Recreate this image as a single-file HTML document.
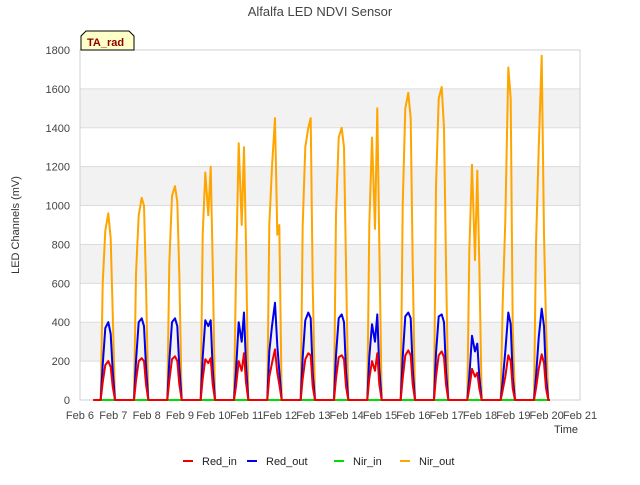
<!DOCTYPE html>
<html><head><meta charset="utf-8"><style>
body{margin:0;background:#fff;font-family:"Liberation Sans",sans-serif}
text{font-family:"Liberation Sans","DejaVu Sans",sans-serif}
</style></head><body>
<svg id="c" width="640" height="480">
<text x="320" y="16" text-anchor="middle" font-size="13" fill="#444">Alfalfa LED NDVI Sensor</text>
<g id="bands"></g><g id="grid"></g><g id="ticks"></g><g id="series"></g>
<text x="19" y="225" transform="rotate(-90 19 225)" text-anchor="middle" font-size="11" fill="#333">LED Channels (mV)</text>
<text x="566" y="433" text-anchor="middle" font-size="11" fill="#333">Time</text>
<g>
<path d="M81,50 L81,36 L86,31 L129,31 L134,36 L134,50 Z" fill="#ffffc8" stroke="#000" stroke-width="1"/>
<text x="87" y="46" font-size="11" font-weight="bold" fill="#8b0000">TA_rad</text></g>
<g id="legend"></g>
</svg>
<script>
const yTicks=[0,200,400,600,800,1000,1200,1400,1600,1800];
const xTickLabels=["Feb 6","Feb 7","Feb 8","Feb 9","Feb 10","Feb 11","Feb 12","Feb 13","Feb 14","Feb 15","Feb 16","Feb 17","Feb 18","Feb 19","Feb 20","Feb 21"];
const dayFractions=[0.62,0.68,0.76,0.85,0.92,0.98,1.05];
const nirOut=[
0,600,870,960,830,450,0, 0,650,950,1040,1000,600,0, 0,700,1050,1100,1020,650,0,
0,850,1170,950,1200,700,0, 0,650,1320,900,1300,800,0, 0,900,1200,1450,850,900,0,
0,900,1300,1400,1450,600,0, 0,950,1350,1400,1300,700,0, 0,900,1350,880,1500,800,0,
0,1000,1500,1580,1450,700,0, 0,1100,1550,1610,1400,700,0, 0,760,1210,720,1180,700,0,
0,500,920,1710,1550,380,0, 0,800,1290,1770,850,400,0];
const redOut=[
0,180,370,400,340,150,0, 0,200,400,420,380,170,0, 0,200,400,420,380,170,0,
0,220,410,380,410,160,0, 0,150,400,300,450,180,0, 0,250,380,500,280,150,0,
0,220,410,450,420,140,0, 0,230,420,440,400,150,0, 0,220,390,300,440,160,0,
0,220,430,450,420,160,0, 0,240,430,440,400,150,0, 0,120,330,250,290,120,0,
0,100,250,450,390,120,0, 0,120,320,470,380,120,0];
const redIn=[
0,90,180,200,170,70,0, 0,100,200,215,200,80,0, 0,100,210,225,200,80,0,
0,110,210,190,215,80,0, 0,70,200,150,240,90,0, 0,120,190,260,140,80,0,
0,110,210,240,230,70,0, 0,110,220,230,210,70,0, 0,110,200,150,240,80,0,
0,110,230,255,230,80,0, 0,120,230,250,220,80,0, 0,60,160,120,140,60,0,
0,50,120,230,200,60,0, 0,60,160,235,190,60,0];
const nirIn=[0,0,0,0,0,0,0];
const L=80,R=580,T=50,B=400,X0=6,X1=21,YMAX=1800;
const xs=d=>L+(d-X0)/(X1-X0)*(R-L), ys=v=>B-v/YMAX*(B-T);
const NS="http://www.w3.org/2000/svg";
function mk(tag,parent,attrs){const e=document.createElementNS(NS,tag);for(const k in attrs)e.setAttribute(k,attrs[k]);document.getElementById(parent).appendChild(e);return e;}
for(let i=0;i<yTicks.length-1;i++){if(i%2===1){const r=mk('rect','bands',{x:L,y:ys(yTicks[i+1]),width:R-L,height:ys(yTicks[i])-ys(yTicks[i+1]),fill:'#f2f2f2'});

}}
yTicks.forEach(v=>{const l=mk('line','grid',{x1:L,x2:R,y1:ys(v),y2:ys(v),stroke:'#dcdcdc'});


const t=mk('text','ticks',{x:L-10,y:ys(v)+4,'text-anchor':'end','font-size':'11',fill:'#444'});t.textContent=v;

});
const fr=mk('rect','grid',{x:L,y:T,width:R-L,height:B-T,fill:'none',stroke:'#d0d0d0'});


xTickLabels.forEach((s,i)=>{const t=mk('text','ticks',{x:xs(X0+i),y:B+19,'text-anchor':'middle','font-size':'11',fill:'#444'});t.textContent=s;

});
function pts(vals){const p=[[X0+0.4,0]];for(let i=0;i<vals.length;i++){const d=Math.floor(i/dayFractions.length),f=dayFractions[i%dayFractions.length];p.push([X0+d+f,vals[i]]);}
p.push([X0+Math.ceil(vals.length/dayFractions.length)+0.1,0]);return p;}
function line(vals,color,name){const p=pts(vals).map(q=>xs(q[0]).toFixed(1)+','+ys(q[1]).toFixed(1)).join(' ');
const e=mk('polyline','series',{points:p,fill:'none',stroke:color,'stroke-width':'2','stroke-linejoin':'round'});

}
line(nirIn.concat(new Array(nirOut.length-nirIn.length).fill(0)),'#00dd00','nir-in-line');
line(nirOut,'#ffa500','nir-out-line');
line(redOut,'#0000ee','red-out-line');
line(redIn,'#ee0000','red-in-line');
const leg=[["Red_in","#ee0000",183],["Red_out","#0000ee",247],["Nir_in","#00dd00",334],["Nir_out","#ffa500",400]];
leg.forEach(l=>{const g=mk('line','legend',{x1:l[2],x2:l[2]+10,y1:461,y2:461,stroke:l[1],'stroke-width':'2'});


const t=mk('text','legend',{x:l[2]+19,y:465,'font-size':'11',fill:'#222'});t.textContent=l[0];

});
</script>
</body></html>
